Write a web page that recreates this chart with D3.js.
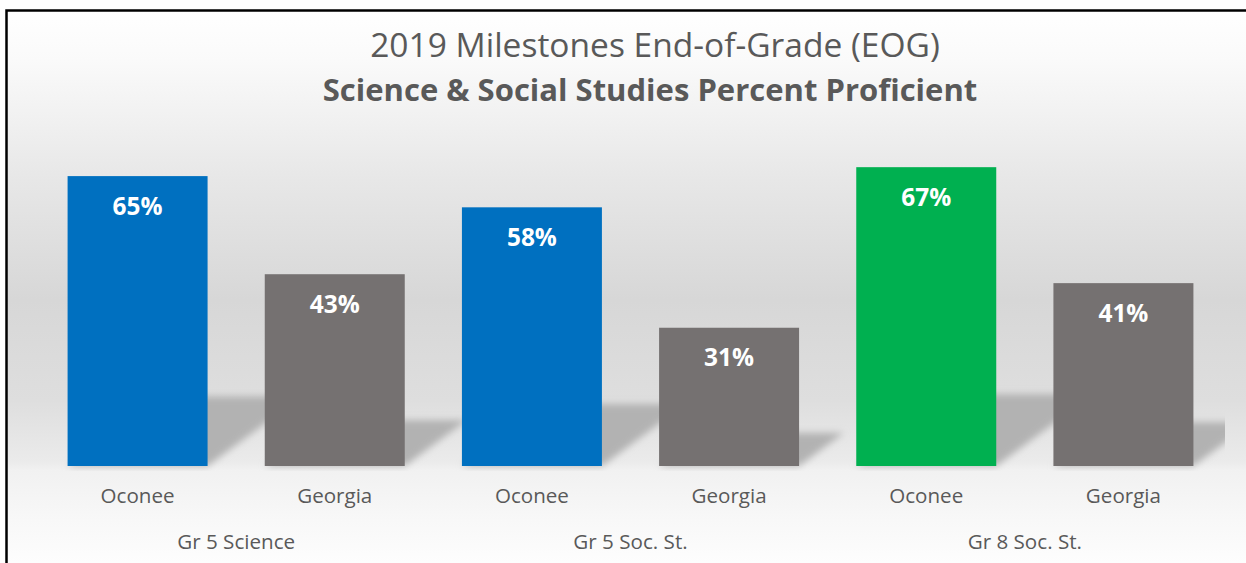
<!DOCTYPE html>
<html>
<head>
<meta charset="utf-8">
<script src="https://cdn.jsdelivr.net/npm/d3@7"></script>
<style>
  html, body { margin: 0; padding: 0; background: #ffffff; }
  svg { display: block; }
</style>
</head>
<body>
<svg id="chart" width="1246" height="563"></svg>
<script>
// ---- data ----
const groups = ["Gr 5 Science", "Gr 5 Soc. St.", "Gr 8 Soc. St."];
const series = ["Oconee", "Georgia"];
const oconeeValues = [65, 58, 67];
const georgiaValues = [43, 31, 41];
const oconeeColors = ["#0070C0", "#0070C0", "#00B050"];
const georgiaColor = "#757171";
const titleLine1 = "2019 Milestones End-of-Grade (EOG)";
const titleLine2 = "Science & Social Studies Percent Proficient";

// ---- layout ----
const W = 1246, H = 563;
const svg = d3.select("#chart");
const FONT = "'Open Sans', 'Noto Sans', sans-serif";
const textColor = "#595959";

const defs = svg.append("defs");
const bg = defs.append("linearGradient").attr("id", "bgGrad")
  .attr("gradientUnits", "userSpaceOnUse").attr("x1", 0).attr("x2", 0).attr("y1", 10).attr("y2", 563);
[[10, "#ffffff"], [60, "#fafafa"], [180, "#e7e7e7"], [300, "#d7d7d7"], [400, "#dedede"],
 [462, "#ebebeb"], [470, "#f1f1f1"], [520, "#f8f8f8"], [563, "#fdfdfd"]].forEach(([y, c]) => {
  bg.append("stop").attr("offset", (y - 10) / (563 - 10)).attr("stop-color", c);
});
const blur = defs.append("filter").attr("id", "shadowBlur")
  .attr("x", "-30%").attr("y", "-30%").attr("width", "160%").attr("height", "160%");
blur.append("feGaussianBlur").attr("stdDeviation", 3.5);
defs.append("clipPath").attr("id", "plotClip")
  .append("rect").attr("x", 8).attr("y", 11).attr("width", 1217).attr("height", 460);

// background + frame
svg.append("rect").attr("x", 6.5).attr("y", 10.5).attr("width", W + 10).attr("height", H + 10)
  .attr("fill", "url(#bgGrad)").attr("stroke", "#000").attr("stroke-width", 2.5);

// scales
const x0 = d3.scaleBand().domain(groups).range([39, 1222]).paddingInner(0).paddingOuter(0);
const x1 = d3.scaleBand().domain(series).range([0, x0.bandwidth()]).paddingInner(0.29).paddingOuter(0.145);
const y = d3.scaleLinear().domain([0, 70]).range([466, 153.8]);

const data = [];
groups.forEach((g, i) => {
  data.push({ group: g, series: "Oconee", value: oconeeValues[i], color: oconeeColors[i] });
  data.push({ group: g, series: "Georgia", value: georgiaValues[i], color: georgiaColor });
});

function fitWidth(sel, target) {
  const fs = +sel.attr("font-size");
  const w = sel.node().getComputedTextLength();
  if (w > 0) sel.attr("font-size", fs * target / w);
  return +sel.attr("font-size");
}

// perspective shadows
const shadowG = svg.append("g").attr("clip-path", "url(#plotClip)");
shadowG.selectAll("path").data(data).join("path")
  .attr("d", d => {
    const xa = x0(d.group) + x1(d.series), xb = xa + x1.bandwidth();
    const base = y(0), h = y(0) - y(d.value);
    const sh = 0.24 * h, dx = 1.35 * sh;
    return `M${xa},${base}L${xb},${base}L${xb + dx},${base - sh}L${xa + dx},${base - sh}Z`;
  })
  .attr("fill", "#b2b2b2")
  .attr("filter", "url(#shadowBlur)");

// bars
svg.append("g").selectAll("rect").data(data).join("rect")
  .attr("x", d => x0(d.group) + x1(d.series))
  .attr("y", d => y(d.value))
  .attr("width", x1.bandwidth())
  .attr("height", d => y(0) - y(d.value))
  .attr("fill", d => d.color);

// value labels
const valLabels = svg.append("g").selectAll("text").data(data).join("text")
  .attr("x", d => x0(d.group) + x1(d.series) + x1.bandwidth() / 2)
  .attr("y", d => y(d.value) + 32)
  .attr("text-anchor", "middle").attr("dominant-baseline", "middle")
  .attr("font-family", FONT).attr("font-weight", "bold").attr("font-size", 22)
  .attr("fill", "#ffffff")
  .text(d => d.value + "%");
const vfs = fitWidth(d3.select(valLabels.nodes()[0]), 50);
valLabels.attr("font-size", vfs);

// series axis labels
const serLabels = svg.append("g").selectAll("text").data(data).join("text")
  .attr("x", d => x0(d.group) + x1(d.series) + x1.bandwidth() / 2)
  .attr("y", 497)
  .attr("text-anchor", "middle").attr("dominant-baseline", "middle")
  .attr("font-family", FONT).attr("font-size", 18.5)
  .attr("fill", textColor)
  .text(d => d.series);
const sfs = fitWidth(d3.select(serLabels.nodes()[0]), 74);
serLabels.attr("font-size", sfs);

// group axis labels
const grpLabels = svg.append("g").selectAll("text").data(groups).join("text")
  .attr("x", d => x0(d) + x0.bandwidth() / 2)
  .attr("y", 543)
  .attr("text-anchor", "middle").attr("dominant-baseline", "middle")
  .attr("font-family", FONT).attr("font-size", 18.5)
  .attr("fill", textColor)
  .text(d => d);
const gfs = fitWidth(d3.select(grpLabels.nodes()[0]), 118);
grpLabels.attr("font-size", gfs);

// title
const t1 = svg.append("text").attr("x", 655).attr("y", 48)
  .attr("text-anchor", "middle").attr("dominant-baseline", "middle")
  .attr("font-family", FONT).attr("font-size", 28).attr("fill", textColor)
  .text(titleLine1);
fitWidth(t1, 570);
const t2 = svg.append("text").attr("x", 650).attr("y", 93)
  .attr("text-anchor", "middle").attr("dominant-baseline", "middle")
  .attr("font-family", FONT).attr("font-weight", "bold").attr("font-size", 28).attr("fill", textColor)
  .text(titleLine2);
fitWidth(t2, 655);
</script>
</body>
</html>
